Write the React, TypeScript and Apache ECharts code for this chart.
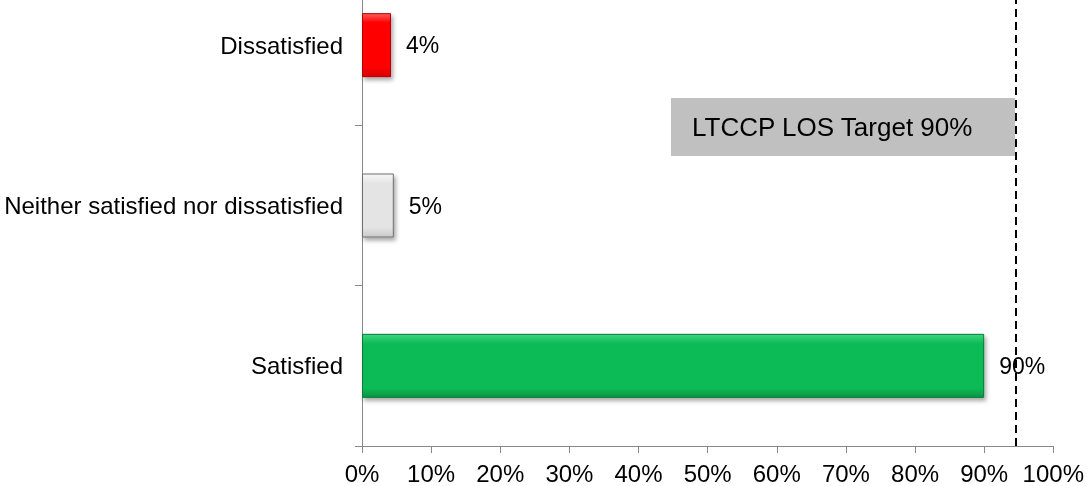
import React, { useEffect, useRef } from "react";
import * as echarts from "echarts";

const categories = ["Satisfied", "Neither satisfied nor dissatisfied", "Dissatisfied"];
const values = [90, 4.6, 4.2];
const xTicks = { min: 0, max: 100, interval: 10 };
const targetLine = 94.6;
const targetText = "LTCCP LOS Target 90%";

const palettes = [
  { top: "#3fd67f", mid: "#0dbb56", bot: "#079444", border: "#077a38" },
  { top: "#f7f7f7", mid: "#e4e4e4", bot: "#c9c9c9", border: "#6e6e6e" },
  { top: "#ff5a5a", mid: "#ff0000", bot: "#d40000", border: "#b00000" },
];

const OFFSET = 35; // chart extends above the visible page

export default function App() {
  const ref = useRef<HTMLDivElement>(null);
  useEffect(() => {
    if (!ref.current) return;
    const chart = echarts.init(ref.current, undefined, { renderer: "svg" });
    const font = "'Liberation Sans', Arial, sans-serif";
    chart.setOption({
      animation: false,
      grid: { left: 362, right: 32, top: 0, bottom: 40, containLabel: false },
      xAxis: {
        type: "value",
        min: xTicks.min,
        max: xTicks.max,
        interval: xTicks.interval,
        axisLine: { show: true, lineStyle: { color: "#888888", width: 1 } },
        axisTick: { show: true, length: 7, lineStyle: { color: "#888888" } },
        splitLine: { show: false },
        axisLabel: {
          formatter: "{value}%",
          color: "#000",
          fontSize: 24,
          fontFamily: font,
          margin: 15,
        },
      },
      yAxis: {
        type: "category",
        data: categories,
        axisLine: { show: true, lineStyle: { color: "#888888", width: 1 } },
        axisTick: { show: true, length: 7, lineStyle: { color: "#888888" } },
        axisLabel: { color: "#000", fontSize: 24, fontFamily: font, margin: 19 },
      },
      series: [
        {
          type: "bar",
          barWidth: 64,
          data: values.map((v, i) => ({
            value: v,
            itemStyle: {
              color: new echarts.graphic.LinearGradient(0, 0, 0, 1, [
                { offset: 0, color: palettes[i].top },
                { offset: 0.15, color: palettes[i].mid },
                { offset: 0.85, color: palettes[i].mid },
                { offset: 1, color: palettes[i].bot },
              ]),
              borderColor: palettes[i].border,
              borderWidth: 1,
              shadowColor: "rgba(0,0,0,0.35)",
              shadowBlur: 4,
              shadowOffsetX: 2,
              shadowOffsetY: 3,
            },
          })),
          label: {
            show: true,
            position: "right",
            distance: 15,
            formatter: (p: any) => Math.round(p.value) + "%",
            color: "#000",
            fontSize: 23,
            fontFamily: font,
          },
          markLine: {
            silent: true,
            symbol: "none",
            label: { show: false },
            lineStyle: { color: "#000", width: 2, type: [8, 5] },
            data: [{ xAxis: targetLine }],
          },
        },
      ],
      graphic: [
        {
          type: "rect",
          shape: { x: 671, y: 98 + OFFSET, width: 344, height: 58 },
          style: { fill: "#c0c0c0" },
          z: 10,
        },
        {
          type: "text",
          x: 692,
          y: 127 + OFFSET,
          style: {
            text: targetText,
            fill: "#000",
            fontSize: 26,
            fontFamily: font,
            verticalAlign: "middle",
            align: "left",
          },
          z: 11,
        },
      ],
    });
    return () => chart.dispose();
  }, []);
  return (
    <div
      ref={ref}
      style={{ position: "fixed", left: 0, top: -OFFSET, width: 1087, height: 486 + OFFSET }}
    />
  );
}
